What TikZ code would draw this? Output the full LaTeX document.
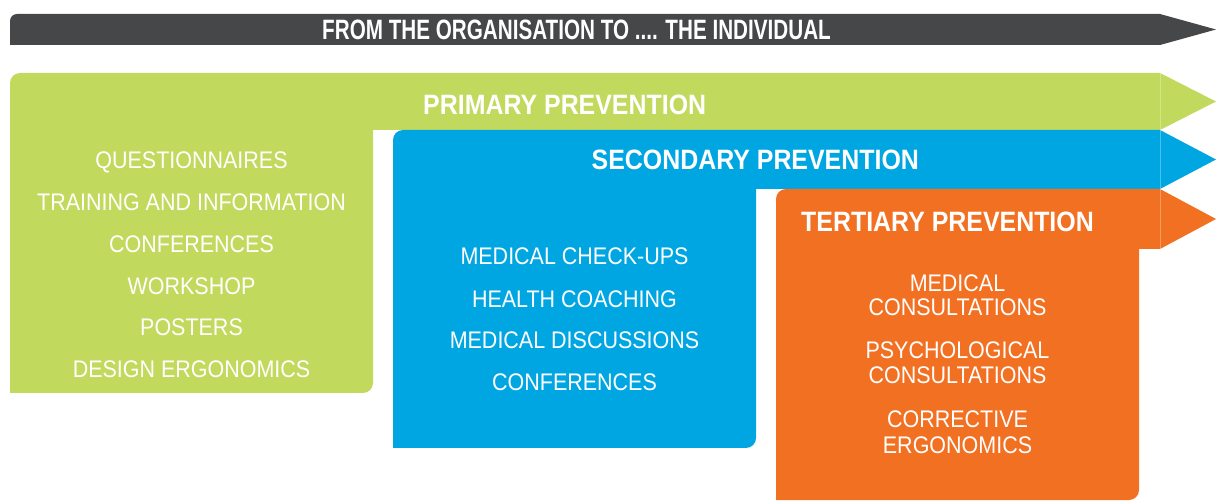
\documentclass[tikz,border=0pt]{standalone}
\usepackage{fontspec}
\newfontfamily\titlefont{Liberation Sans}[FakeStretch=0.738]
\newfontfamily\headfont{Liberation Sans}[FakeStretch=0.89]
\newfontfamily\itemfont{Liberation Sans}[FakeStretch=0.895]

\definecolor{barDark}{RGB}{70,71,73}
\definecolor{primGreen}{RGB}{193,217,92}
\definecolor{secBlue}{RGB}{0,166,226}
\definecolor{terOrange}{RGB}{242,112,34}

\tikzset{
  titletext/.style={anchor=base, inner sep=0pt, text=white,
    font=\titlefont\bfseries\fontsize{28}{28}\selectfont},
  headtext/.style={anchor=base, inner sep=0pt, text=white,
    font=\headfont\bfseries\fontsize{28}{28}\selectfont},
  itemtext/.style={anchor=base, inner sep=0pt, text=white,
    font=\itemfont\fontsize{24}{24}\selectfont},
  seam/.style={draw=white, draw opacity=0.3, line width=0.6pt}
}

\begin{document}
\begin{tikzpicture}[x=1pt, y=1pt]
  \useasboundingbox (0,0) rectangle (1216,501);

  % top arrow: from the organisation to the individual
  \fill[barDark] (10,456) -- (10,480) arc[start angle=180, end angle=90, radius=7]
    -- (1160,487) -- (1216,471.5) -- (1160,456) -- cycle;

  % primary prevention band and column
  \fill[primGreen] (10,108) -- (10,418) arc[start angle=180, end angle=90, radius=10]
    -- (1160,428) -- (1216,399.5) -- (1160,371) -- (373,371)
    -- (373,118) arc[start angle=0, end angle=-90, radius=10] -- cycle;

  % secondary prevention band and column
  \fill[secBlue] (393,53) -- (393,361) arc[start angle=180, end angle=90, radius=10]
    -- (1160,371) -- (1216,341.5) -- (1160,312) -- (756,312)
    -- (756,63) arc[start angle=0, end angle=-90, radius=10] -- cycle;

  % tertiary prevention band and column
  \fill[terOrange] (776,1) -- (776,302) arc[start angle=180, end angle=90, radius=10]
    -- (1160,312) -- (1216,282) -- (1160,252) -- (1139,252)
    -- (1139,11) arc[start angle=0, end angle=-90, radius=10] -- cycle;

  % faint joins where the arrow heads meet the bands
  \draw[seam] (1160,252) -- (1160,428);

  % headings
  \node[titletext] (title) at (576.5,461.7) {FROM THE ORGANISATION TO .... THE INDIVIDUAL};
  \node[headtext] (primary) at (564.7,386.7) {PRIMARY PREVENTION};
  \node[headtext] (secondary) at (755.3,331) {SECONDARY PREVENTION};
  \node[headtext] (tertiary) at (947.5,269.3) {TERTIARY PREVENTION};

  % primary prevention actions
  \foreach \txt/\yy [count=\i] in {QUESTIONNAIRES/332.7, TRAINING AND INFORMATION/290.3,
      CONFERENCES/248.3, WORKSHOP/206, POSTERS/165, DESIGN ERGONOMICS/123.7}
    \node[itemtext] (p\i) at (191.5,\yy) {\txt};

  % secondary prevention actions
  \foreach \txt/\yy [count=\i] in {MEDICAL CHECK-UPS/236, HEALTH COACHING/193.7,
      MEDICAL DISCUSSIONS/152, CONFERENCES/110}
    \node[itemtext] (s\i) at (574.5,\yy) {\txt};

  % tertiary prevention actions
  \foreach \txt/\yy [count=\i] in {MEDICAL/209.3, CONSULTATIONS/185,
      PSYCHOLOGICAL/142, CONSULTATIONS/117, CORRECTIVE/73.3, ERGONOMICS/47.7}
    \node[itemtext] (t\i) at (957.5,\yy) {\txt};
\end{tikzpicture}
\end{document}
